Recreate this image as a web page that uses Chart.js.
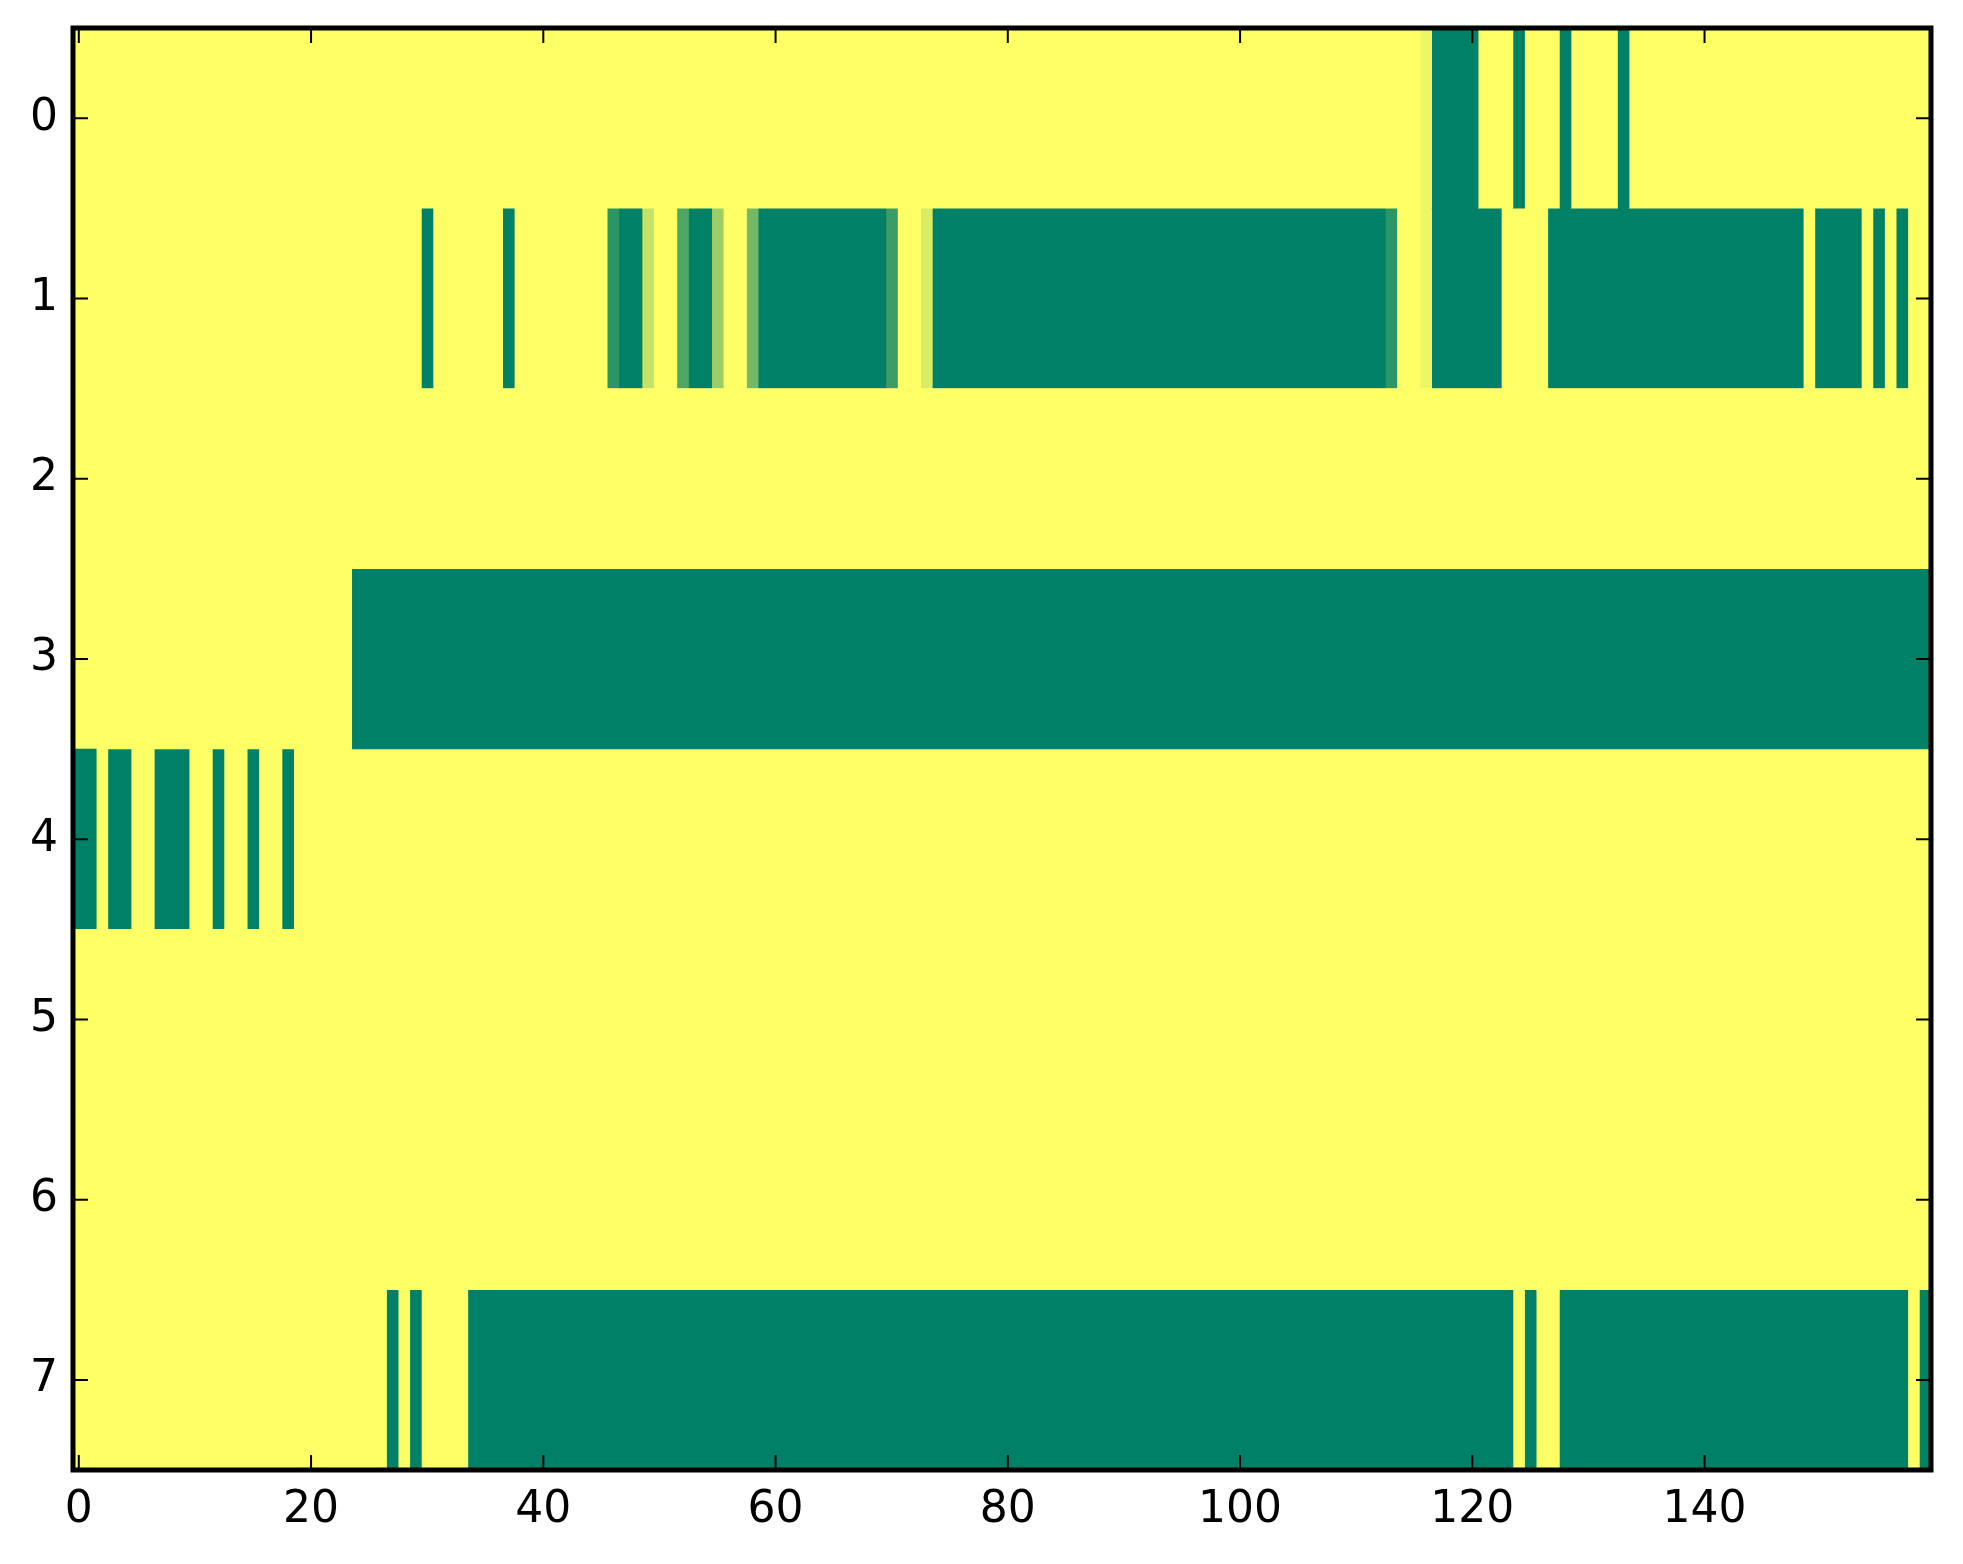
<!DOCTYPE html>
<html>
<head>
<meta charset="utf-8">
<script src="https://cdn.jsdelivr.net/npm/chart.js@4.4.1/dist/chart.umd.min.js"></script>
<style>
  html, body { margin: 0; padding: 0; background: #ffffff; }
  #heat { display: block; }
</style>
</head>
<body>
<canvas id="heat" width="1963" height="1564"></canvas>
<script>
// rows of the image, top to bottom
const rowLabels = ["0", "1", "2", "3", "4", "5", "6", "7"];
const xTicks = [0, 20, 40, 60, 80, 100, 120, 140];
const nCols = 160;

// each row read left to right as [value, number of columns]
const row0 = [[1,116],[0.93,1],[0,4],[1,3],[0,1],[1,3],[0,1],[1,4],[0,1],[1,26]];
const row1 = [[1,30],[0,1],[1,6],[0,1],[1,8],[0.17,1],[0,2],[0.77,1],[1,2],[0.31,1],[0,2],
              [0.61,1],[1,2],[0.45,1],[0,11],[0.23,1],[1,2],[0.85,1],[0,39],[0.17,1],[1,2],
              [0.93,1],[0,6],[1,4],[0,22],[1,1],[0,4],[1,1],[0,1],[1,1],[0,1],[1,2]];
const row2 = [[1,160]];
const row3 = [[1,24],[0,136]];
const row4 = [[0,2],[1,1],[0,2],[1,2],[0,3],[1,2],[0,1],[1,2],[0,1],[1,2],[0,1],[1,141]];
const row5 = [[1,160]];
const row6 = [[1,160]];
const row7 = [[1,27],[0,1],[1,1],[0,1],[1,4],[0,90],[1,1],[0,1],[1,2],[0,30],[1,1],[0,1]];

const rows = [row0, row1, row2, row3, row4, row5, row6, row7];

// matplotlib "summer" colormap
function summer(v) {
  const r = Math.round(255 * v);
  const g = Math.round(255 * (0.5 + 0.5 * v));
  return "rgb(" + r + "," + g + ",102)";
}

// one floating bar per run, k-th run of every row goes into dataset k
const maxRuns = Math.max(...rows.map(r => r.length));
const datasets = [];
for (let k = 0; k < maxRuns; k++) {
  const data = [];
  const colors = [];
  rows.forEach(runs => {
    let start = 0;
    for (let i = 0; i < k && i < runs.length; i++) start += runs[i][1];
    if (k < runs.length) {
      data.push([start - 0.5, start + runs[k][1] - 0.5]);
      colors.push(summer(runs[k][0]));
    } else {
      data.push(null);
      colors.push("rgba(0,0,0,0)");
    }
  });
  datasets.push({
    data: data,
    backgroundColor: colors,
    borderWidth: 0,
    grouped: false,
    barPercentage: 1,
    categoryPercentage: 1
  });
}

// frame and inward ticks on all four sides
const framePlugin = {
  id: "frame",
  afterDraw(chart) {
    const ctx = chart.ctx;
    const a = chart.chartArea;
    const xs = chart.scales.x;
    const ys = chart.scales.y;
    const len = 15;
    ctx.save();
    ctx.strokeStyle = "#000000";
    ctx.lineWidth = 2;
    ctx.beginPath();
    xTicks.forEach(v => {
      const px = xs.getPixelForValue(v);
      ctx.moveTo(px, a.bottom); ctx.lineTo(px, a.bottom - len);
      ctx.moveTo(px, a.top); ctx.lineTo(px, a.top + len);
    });
    rowLabels.forEach((lab, i) => {
      const py = ys.getPixelForValue(i);
      ctx.moveTo(a.left, py); ctx.lineTo(a.left + len, py);
      ctx.moveTo(a.right, py); ctx.lineTo(a.right - len, py);
    });
    ctx.stroke();
    ctx.lineWidth = 5;
    ctx.strokeRect(a.left, a.top, a.right - a.left, a.bottom - a.top);
    ctx.restore();
  }
};

const tickFont = { family: "DejaVu Sans", size: 44 };

// keep the plot box where it is in the picture, labels may hang over
function noPadding(s) {
  s.paddingTop = 0; s.paddingBottom = 0;
  s.paddingLeft = 0; s.paddingRight = 0;
}

new Chart(document.getElementById("heat").getContext("2d"), {
  type: "bar",
  data: { labels: rowLabels, datasets: datasets },
  options: {
    indexAxis: "y",
    responsive: false,
    animation: false,
    devicePixelRatio: 1,
    layout: { padding: { top: 28, right: 32, left: 0, bottom: 0 } },
    plugins: { legend: { display: false }, tooltip: { enabled: false } },
    scales: {
      x: {
        type: "linear",
        min: -0.5,
        max: nCols - 0.5,
        afterBuildTicks: s => { s.ticks = xTicks.map(v => ({ value: v })); },
        afterFit: s => { s.height = 94; noPadding(s); },
        grid: { display: false, drawTicks: false },
        border: { display: false },
        ticks: { color: "#000000", font: tickFont, padding: 14, maxRotation: 0, autoSkip: false }
      },
      y: {
        type: "category",
        afterFit: s => { s.width = 73; noPadding(s); },
        grid: { display: false, drawTicks: false },
        border: { display: false },
        ticks: { color: "#000000", font: tickFont, padding: 15 }
      }
    }
  },
  plugins: [framePlugin]
});
</script>
</body>
</html>
